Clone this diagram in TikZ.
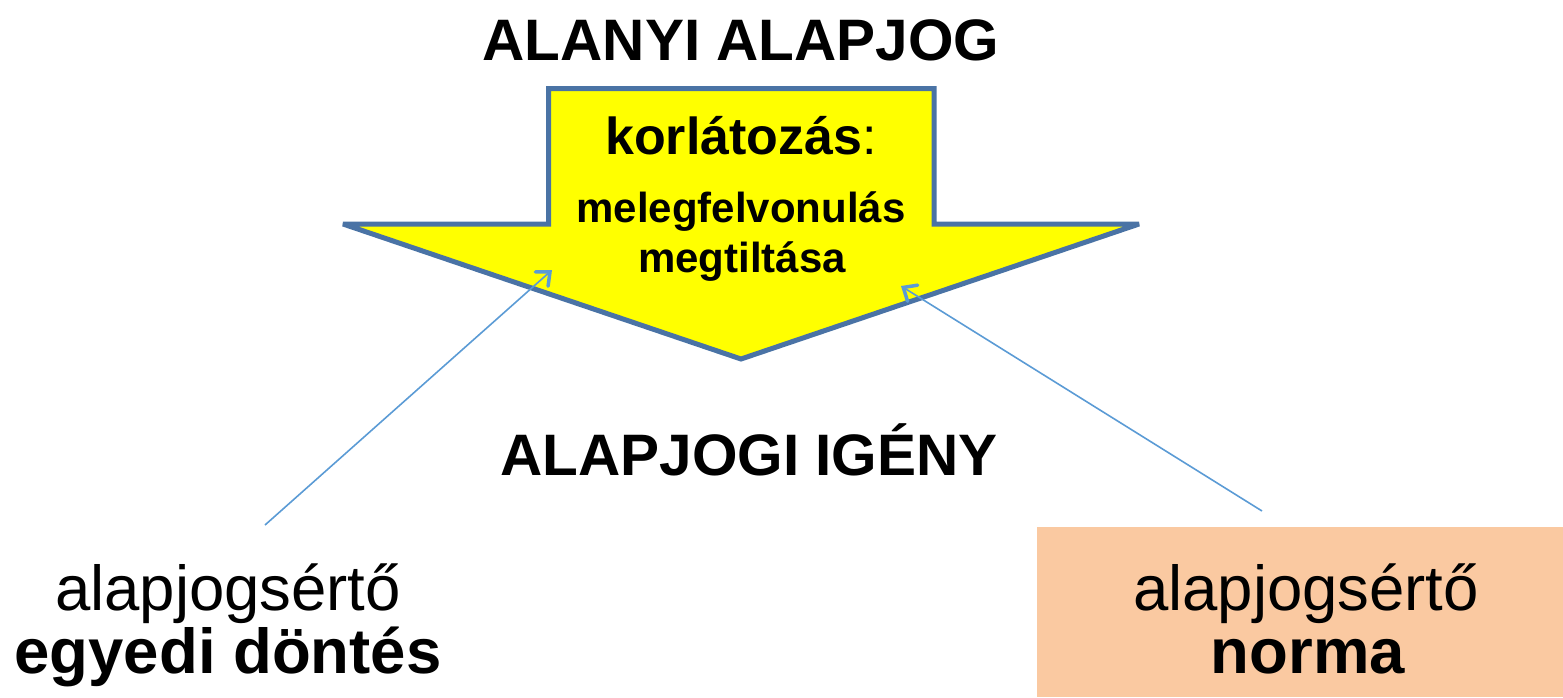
\documentclass[tikz,border=0pt]{standalone}
\usepackage{fontspec}
\setmainfont{Liberation Sans}
\usetikzlibrary{arrows.meta}
\definecolor{arrowfill}{HTML}{FFFF00}
\definecolor{arrowline}{HTML}{4A73A5}
\definecolor{conn}{HTML}{5B9BD5}
\definecolor{peach}{HTML}{FAC9A1}
\tikzset{
  title/.style={font=\fontsize{58.5}{64}\selectfont\bfseries, anchor=base, inner sep=0pt},
  big/.style={font=\fontsize{63.5}{70}\selectfont, anchor=base, inner sep=0pt},
  inner/.style={font=\fontsize{42}{48}\selectfont\bfseries, anchor=base, inner sep=0pt},
  connector/.style={draw=conn, line width=1.6pt,
    -{Straight Barb[length=11pt, width=19pt, line width=3.5pt, line cap=round]}},
  bigarrow/.style={draw=arrowline, fill=arrowfill, line width=5pt, line join=miter, miter limit=4}
}
\begin{document}
\begin{tikzpicture}[x=1pt, y=-1pt]
\useasboundingbox (0,0) rectangle (1563,697);
% block arrow
\coordinate (s1) at (548.5,88.5);
\coordinate (s2) at (934,88.5);
\coordinate (s3) at (934,224);
\coordinate (tr) at (1139,224);
\coordinate (tb) at (741,359);
\coordinate (tl) at (343,224);
\coordinate (s4) at (548.5,224);
\draw[bigarrow] (s1) -- (s2) -- (s3) -- (tr) -- (tb) -- (tl) -- (s4) -- cycle;
% orange box
\node[fill=peach, minimum width=526pt, minimum height=170pt, inner sep=0pt, anchor=north west] (rbox) at (1037,527) {};
% texts
\node[title] (top) at (741,60.5) {ALANYI ALAPJOG};
\node[title] (bottom) at (749,475.5) {ALAPJOGI IGÉNY};
\node[anchor=base, inner sep=0pt, font=\fontsize{52}{58}\selectfont] (korl) at (741,154) {\textbf{korlátozás}:};
\node[inner] (mel1) at (741,222) {melegfelvonulás};
\node[inner] (mel2) at (742,272) {megtiltása};
\node[big] (l1) at (228,610) {alapjogsértő};
\node[big, font=\fontsize{63.5}{70}\selectfont\bfseries] (l2) at (228,673) {egyedi döntés};
\node[big] (r1) at (1306,610) {alapjogsértő};
\node[big, font=\fontsize{63.5}{70}\selectfont\bfseries] (r2) at (1308,673) {norma};
% connectors
\coordinate (la) at (265,525);
\coordinate (lt) at (552,270);
\coordinate (ra) at (1262,511);
\coordinate (rt) at (901,286);
\draw[connector] (la) -- (lt);
\draw[connector] (ra) -- (rt);
\end{tikzpicture}
\end{document}
